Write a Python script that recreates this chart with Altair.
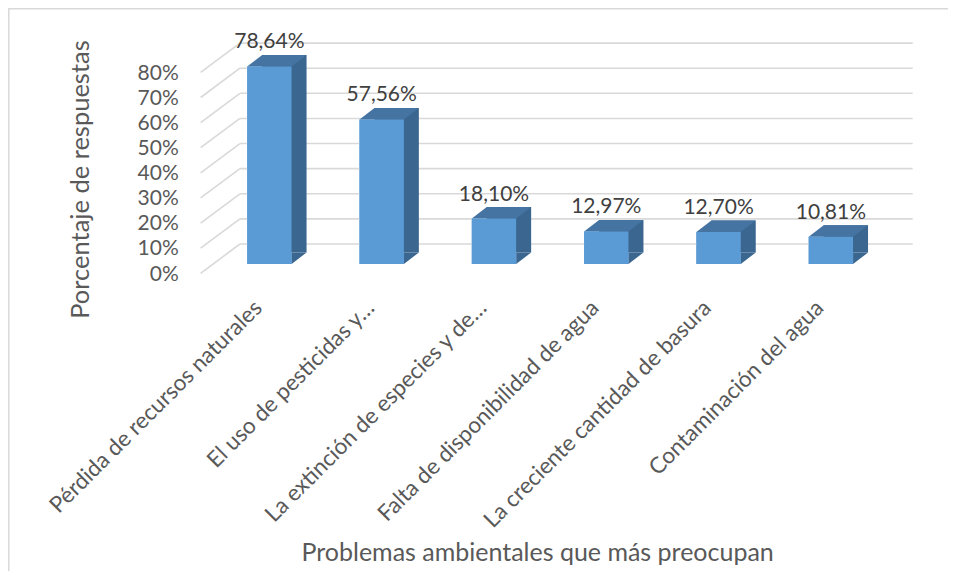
import altair as alt
import pandas as pd

categories = [
    "Pérdida de recursos naturales",
    "El uso de pesticidas y…",
    "La extinción de especies y de…",
    "Falta de disponibilidad de agua",
    "La creciente cantidad de basura",
    "Contaminación del agua",
]
values = [0.7864, 0.5756, 0.1810, 0.1297, 0.1270, 0.1081]
tick_values = [0.0, 0.1, 0.2, 0.3, 0.4, 0.5, 0.6, 0.7, 0.8]

FONT = "Lato"
FRONT = "#5B9BD5"
SIDE = "#3A668F"
TOP = "#4573A2"
GRID = "#D9D9D9"

df = pd.DataFrame({
    "cat": categories,
    "val": values,
    "lbl": [f"{v*100:.2f}%".replace(".", ",") for v in values],
})
ticks_df = pd.DataFrame({"t": tick_values})
one = pd.DataFrame({"k": [0]})

W, H = 674, 201
x_enc = alt.X(
    "cat:N", sort=categories,
    scale=alt.Scale(paddingInner=0.605, paddingOuter=0.3025),
    axis=alt.Axis(
        title="Problemas ambientales que más preocupan",
        labelAngle=-45, labelAlign="right", labelBaseline="middle",
        labelPadding=40, labelOffset=-11, labelLimit=0, labelFont=FONT,
        labelFontSize=22.5, labelColor="#595959", ticks=False, domain=False,
        labelOverlap=False,
        titleFont=FONT, titleFontSize=25, titleFontWeight="normal",
        titleColor="#595959", titleX=324, titleY=289, titleBaseline="middle",
        titleAlign="center",
    ),
)
y_scale = alt.Scale(domain=[0, 0.8], nice=False, zero=True)
y_axis = alt.Axis(
    title="Porcentaje de respuestas", values=tick_values, format=".0%",
    grid=False, domain=False, ticks=False, labelPadding=35, labelOverlap=False,
    labelOffset=10, labelFont=FONT, labelFontSize=21, labelColor="#595959",
    titleFont=FONT, titleFontSize=25.5, titleFontWeight="normal",
    titleColor="#595959", titleX=-133, titleY=116, titleBaseline="middle",
    titleAlign="center", titleAngle=-90,
)
y_enc = alt.Y("val:Q", scale=y_scale, axis=y_axis)

# back wall gridlines
grid_back = alt.Chart(ticks_df).mark_rule(color=GRID, strokeWidth=1.6, yOffset=-20).encode(
    y=alt.Y("t:Q", scale=y_scale, axis=y_axis),
    x=alt.value(26.7), x2=alt.value(699.7),
)
grid_side = alt.Chart(ticks_df).mark_rule(
    color=GRID, strokeWidth=1.6, yOffset=9.3, y2Offset=-20
).encode(
    y=alt.Y("t:Q", scale=y_scale, axis=y_axis), y2=alt.Y2("t:Q"),
    x=alt.value(-12.6), x2=alt.value(26.7),
)

# chart border (top and left)
border_top = alt.Chart(one).mark_rule(color=GRID, strokeWidth=1.5).encode(
    x=alt.value(-204.5), x2=alt.value(740), y=alt.value(-54.3)
)
border_left = alt.Chart(one).mark_rule(color=GRID, strokeWidth=1.5).encode(
    x=alt.value(-204.5), y=alt.value(-55), y2=alt.value(520)
)

base = alt.Chart(df)
side = base.mark_bar(color=SIDE, xOffset=15, yOffset=-11.5, y2Offset=-11.5).encode(x=x_enc, y=y_enc)
tri_path = "M 0.555 0 L 0.93 -0.2875 L 0.555 -0.2875 Z"
side_tri = base.mark_point(
    shape=tri_path, size=6400, filled=True, color=SIDE, opacity=1, strokeWidth=0
).encode(x=x_enc, y=alt.YDatum(0, scale=y_scale, axis=y_axis))
top_path = "M -0.555 0 L 0.555 0 L 0.93 -0.2875 L -0.18 -0.2875 Z"
top = base.mark_point(
    shape=top_path, size=6400, filled=True, color=TOP, opacity=1, strokeWidth=0
).encode(x=x_enc, y=y_enc)
front = base.mark_bar(color=FRONT).encode(x=x_enc, y=y_enc)
labels = base.mark_text(dy=-24, font=FONT, fontSize=21, color="#404040").encode(
    x=x_enc, y=y_enc, text="lbl:N"
)

chart = alt.layer(
    front, border_top, border_left, grid_back, grid_side, side, side_tri, top, front, labels
).properties(
    width=W, height=H,
    background="white",
    autosize=alt.AutoSizeParams(type="none"),
    padding={"left": 205.3, "top": 55, "right": 61, "bottom": 307},
).configure_view(
    stroke="transparent", strokeWidth=0
).configure_axis(labelOverlap=False)

chart.save("out.html", embed_options={"renderer": "svg", "actions": False})
